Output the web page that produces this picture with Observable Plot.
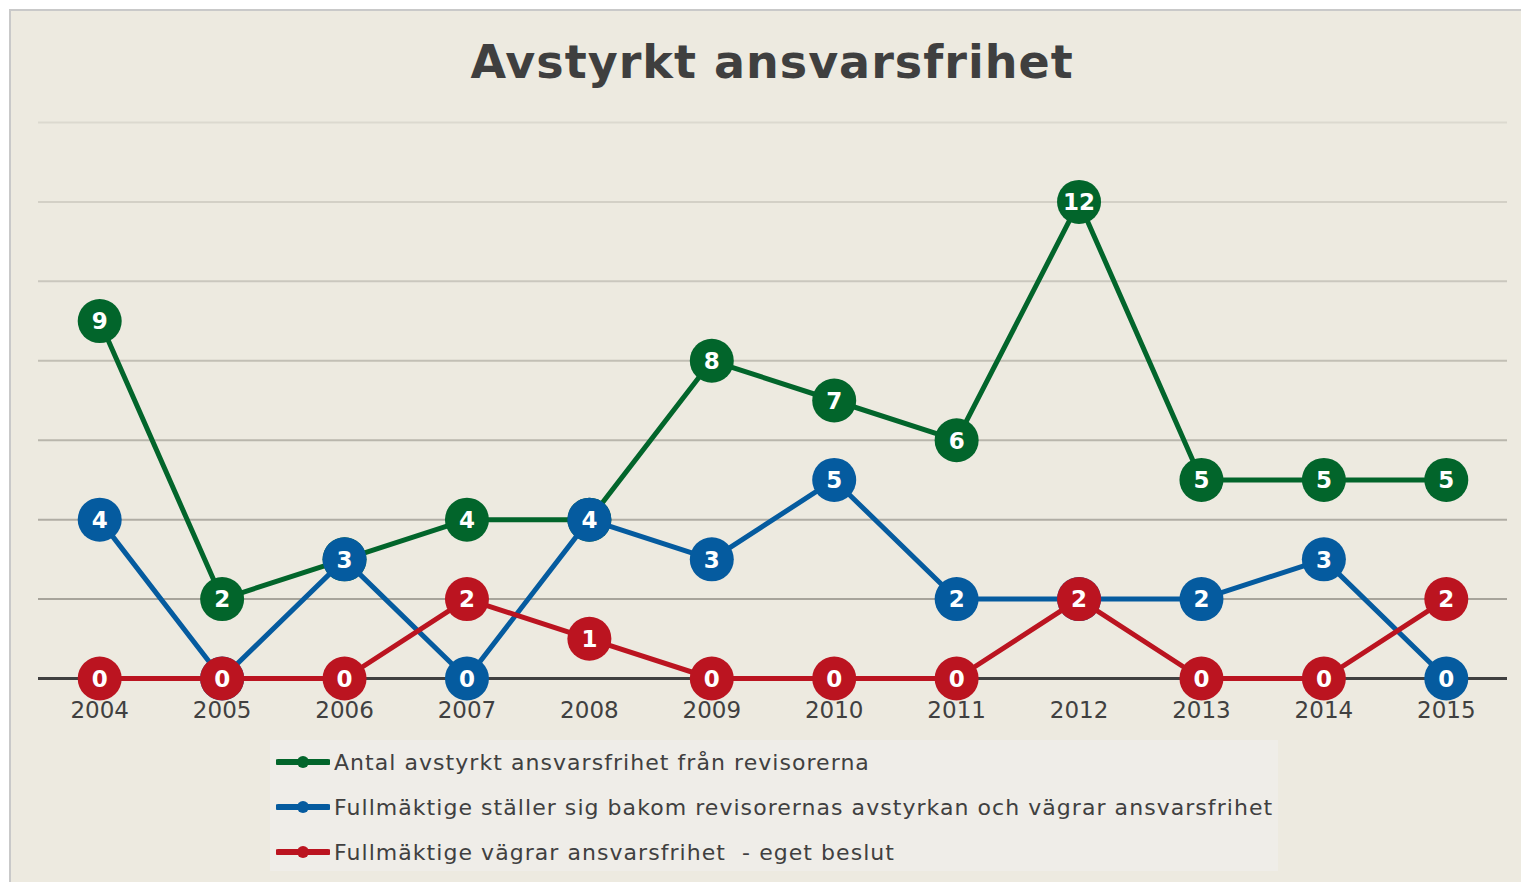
<!DOCTYPE html>
<html>
<head>
<meta charset="utf-8">
<script src="https://cdn.jsdelivr.net/npm/d3@7"></script>
<script src="https://cdn.jsdelivr.net/npm/@observablehq/plot@0.6"></script>
<style>
  html, body { margin: 0; padding: 0; background: #ffffff; overflow: hidden; }
  body { width: 1521px; height: 882px; position: relative; font-family: "DejaVu Sans", sans-serif; }
  #frame { position: absolute; left: 9px; top: 9px; width: 1540px; height: 900px; background: #edeae0; border: 2px solid #c9c9c9; box-sizing: border-box; }
  #title { position: absolute; left: 0; width: 1544px; top: 35px; text-align: center; font-size: 46px; font-weight: bold; color: #3f3f3f; letter-spacing: 1px; }
  #chart { position: absolute; left: 0; top: 0; }
  #legend { position: absolute; left: 270px; top: 740px; width: 1008px; height: 131px; background: #efede8; }
  .item { position: absolute; left: 6px; height: 30px; display: flex; align-items: center; font-size: 22px; letter-spacing: 1.05px; color: #404040; white-space: pre; }
  .item svg { margin-right: 4px; }
</style>
</head>
<body>
<div id="frame"></div>
<div id="title">Avstyrkt ansvarsfrihet</div>
<div id="chart"></div>
<div id="legend"></div>
<script>
const years = [2004, 2005, 2006, 2007, 2008, 2009, 2010, 2011, 2012, 2013, 2014, 2015];
const avstyrkt = [9, 2, 3, 4, 4, 8, 7, 6, 12, 5, 5, 5];
const bakom = [4, 0, 3, 0, 4, 3, 5, 2, 2, 2, 3, 0];
const vagrar = [0, 0, 0, 2, 1, 0, 0, 0, 2, 0, 0, 2];
const seriesNames = [
  "Antal avstyrkt ansvarsfrihet från revisorerna",
  "Fullmäktige ställer sig bakom revisorernas avstyrkan och vägrar ansvarsfrihet",
  "Fullmäktige vägrar ansvarsfrihet  - eget beslut"
];
const seriesColors = ["#02652b", "#055b9f", "#bb1420"];
const gridTicks = [2, 4, 6, 8, 10, 12, 14];

const seriesValues = [avstyrkt, bakom, vagrar];
const rows = [];
seriesValues.forEach((vals, s) => {
  years.forEach((y, i) => rows.push({series: seriesNames[s], s, year: y, value: vals[i]}));
});

const gridColor = d3.scaleLinear().domain([2, 14]).range(["#a7a49b", "#dcd9cf"]);

const marks = [
  Plot.ruleY(gridTicks, {stroke: d => gridColor(d), strokeWidth: 2}),
  Plot.ruleY([0], {stroke: "#404040", strokeWidth: 3}),
  Plot.axisX({ticks: years, tickFormat: "d", tickSize: 0, tickPadding: 23, fontSize: 23, fill: "#404040", label: null, fontFamily: "DejaVu Sans"})
];
[0, 1, 2].forEach(s => {
  const d = rows.filter(r => r.s === s);
  marks.push(Plot.line(d, {x: "year", y: "value", stroke: seriesColors[s], strokeWidth: 5, strokeLinejoin: "round"}));
  marks.push(Plot.dot(d, {x: "year", y: "value", r: 22, fill: seriesColors[s], stroke: null}));
  marks.push(Plot.text(d, {x: "year", y: "value", text: r => String(r.value), fill: "white", fontSize: 23, fontWeight: "bold", fontFamily: "DejaVu Sans", dy: 1}));
});

const chart = Plot.plot({
  width: 1521,
  height: 740,
  marginLeft: 38,
  marginRight: 14,
  marginTop: 122,
  marginBottom: 62,
  style: {background: "transparent", overflow: "visible"},
  x: {domain: [2003.5, 2015.5], axis: null},
  y: {domain: [0, 14], axis: null},
  marks
});
document.getElementById("chart").appendChild(chart);

const legend = document.getElementById("legend");
const tops = [7, 52, 97];
seriesNames.forEach((name, i) => {
  const item = document.createElement("div");
  item.className = "item";
  item.style.top = tops[i] + "px";
  const ns = "http://www.w3.org/2000/svg";
  const svg = document.createElementNS(ns, "svg");
  svg.setAttribute("width", 54); svg.setAttribute("height", 14);
  const line = document.createElementNS(ns, "line");
  line.setAttribute("x1", 2); line.setAttribute("x2", 52); line.setAttribute("y1", 7); line.setAttribute("y2", 7);
  line.setAttribute("stroke", seriesColors[i]); line.setAttribute("stroke-width", 6); line.setAttribute("stroke-linecap", "round");
  const c = document.createElementNS(ns, "circle");
  c.setAttribute("cx", 27); c.setAttribute("cy", 7); c.setAttribute("r", 6); c.setAttribute("fill", seriesColors[i]);
  svg.appendChild(line); svg.appendChild(c);
  item.appendChild(svg);
  const span = document.createElement("span");
  span.textContent = name;
  item.appendChild(span);
  legend.appendChild(item);
});
</script>
</body>
</html>
